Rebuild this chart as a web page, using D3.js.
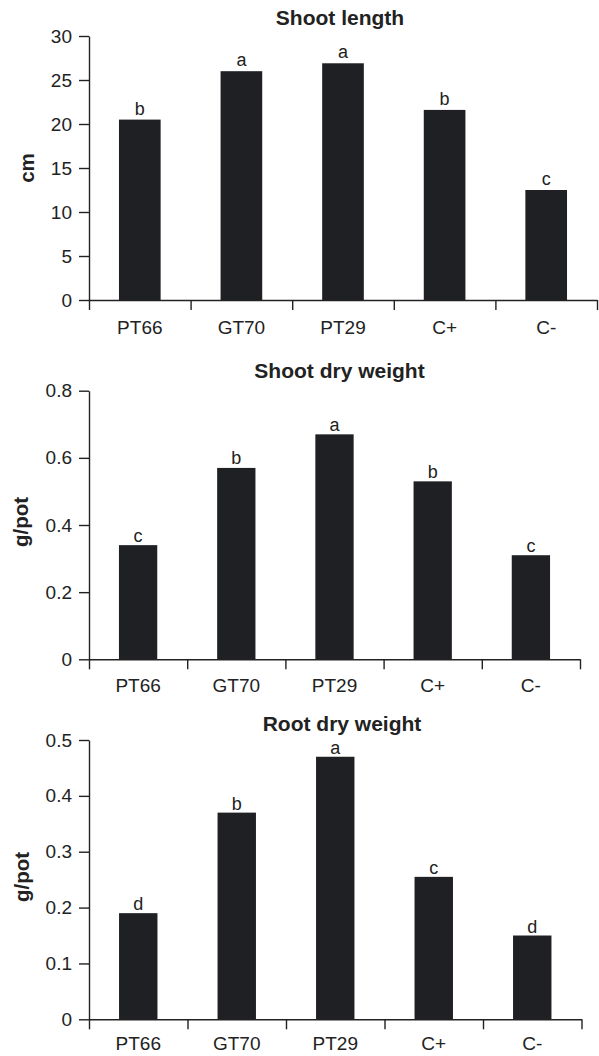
<!DOCTYPE html>
<html>
<head>
<meta charset="utf-8">
<script src="https://cdn.jsdelivr.net/npm/d3@7"></script>
<style>
  html, body { margin: 0; padding: 0; background: #fff; }
  svg { display: block; }
  text { font-family: "Liberation Sans", Arial, Helvetica, sans-serif; fill: #222; }
</style>
</head>
<body>
<svg id="chart" width="599" height="1056"></svg>
<script>
// ---- data ----
const categories = ["PT66", "GT70", "PT29", "C+", "C-"];

const shootLengthValues = [20.5, 26, 26.9, 21.6, 12.5];
const shootLengthLetters = ["b", "a", "a", "b", "c"];
const shootLengthTicks = [0, 5, 10, 15, 20, 25, 30];

const shootDryValues = [0.34, 0.57, 0.67, 0.53, 0.31];
const shootDryLetters = ["c", "b", "a", "b", "c"];
const shootDryTicks = [0, 0.2, 0.4, 0.6, 0.8];

const rootDryValues = [0.19, 0.37, 0.47, 0.255, 0.15];
const rootDryLetters = ["d", "b", "a", "c", "d"];
const rootDryTicks = [0, 0.1, 0.2, 0.3, 0.4, 0.5];

const panels = [
  { title: "Shoot length", yLabel: "cm", values: shootLengthValues, letters: shootLengthLetters,
    ticks: shootLengthTicks, fmt: d => String(d),
    x0: 89, x1: 597, yBase: 300, yTop: 36, barFrac: 0.41,
    titleX: 340, titleY: 25, yLabX: 33.5, yLabY: 168, xLabOff: 34, letterGap: 5 },
  { title: "Shoot dry weight", yLabel: "g/pot", values: shootDryValues, letters: shootDryLetters,
    ticks: shootDryTicks, fmt: d => d === 0 ? "0" : d3.format(".1f")(d),
    x0: 89, x1: 580, yBase: 659.3, yTop: 390.7, barFrac: 0.39,
    titleX: 339.5, titleY: 377.5, yLabX: 27.5, yLabY: 522, xLabOff: 32.5, letterGap: 3.5 },
  { title: "Root dry weight", yLabel: "g/pot", values: rootDryValues, letters: rootDryLetters,
    ticks: rootDryTicks, fmt: d => d === 0 ? "0" : d3.format(".1f")(d),
    x0: 89, x1: 581.5, yBase: 1019.3, yTop: 740, barFrac: 0.39,
    titleX: 342, titleY: 731, yLabX: 28.5, yLabY: 877, xLabOff: 31, letterGap: 3 }
];

const svg = d3.select("#chart");
const ink = "#222";
const barColor = "#1f2023";

panels.forEach(p => {
  const g = svg.append("g");
  const yMax = p.ticks[p.ticks.length - 1];

  const x = d3.scaleBand().domain(categories).range([p.x0, p.x1]).padding(0);
  const xEdge = d3.scaleLinear().domain([0, categories.length]).range([p.x0, p.x1]);
  const y = d3.scaleLinear().domain([0, yMax]).range([p.yBase, p.yTop]);

  // bars
  const bw = x.bandwidth() * p.barFrac;
  g.selectAll("rect.bar").data(p.values).join("rect")
    .attr("class", "bar")
    .attr("x", (d, i) => x(categories[i]) + (x.bandwidth() - bw) / 2)
    .attr("width", bw)
    .attr("y", d => y(d))
    .attr("height", d => y(0) - y(d))
    .attr("fill", barColor);

  // significance letters
  g.selectAll("text.letter").data(p.values).join("text")
    .attr("class", "letter")
    .attr("x", (d, i) => x(categories[i]) + x.bandwidth() / 2)
    .attr("y", d => y(d) - p.letterGap)
    .attr("text-anchor", "middle")
    .attr("font-size", "18px")
    .text((d, i) => p.letters[i]);

  // y axis
  const yAxis = g.append("g")
    .attr("transform", `translate(${p.x0},0)`)
    .call(d3.axisLeft(y).tickValues(p.ticks).tickFormat(p.fmt).tickSizeInner(10).tickSizeOuter(0).tickPadding(7));
  yAxis.selectAll("path, line").attr("stroke", ink).attr("stroke-width", 1.4);
  yAxis.selectAll("text").attr("font-size", "19px").attr("fill", ink).style("font-family", '"Liberation Sans", Arial, sans-serif');

  // x axis line with category boundary ticks
  const xAxis = g.append("g")
    .attr("transform", `translate(0,${p.yBase})`)
    .call(d3.axisBottom(xEdge).tickValues(d3.range(categories.length + 1)).tickFormat("").tickSizeInner(10).tickSizeOuter(0));
  xAxis.selectAll("path, line").attr("stroke", ink).attr("stroke-width", 1.4);

  // category labels
  const xLab = g.append("g")
    .attr("transform", `translate(0,${p.yBase})`)
    .call(d3.axisBottom(x).tickSize(0).tickPadding(0));
  xLab.select(".domain").remove();
  xLab.selectAll("text")
    .attr("y", p.xLabOff).attr("dy", 0)
    .attr("font-size", "19px").attr("fill", ink)
    .style("font-family", '"Liberation Sans", Arial, sans-serif');

  // title
  g.append("text")
    .attr("x", p.titleX).attr("y", p.titleY)
    .attr("text-anchor", "middle")
    .attr("font-size", "21px").attr("font-weight", "bold")
    .text(p.title);

  // y label
  g.append("text")
    .attr("transform", `translate(${p.yLabX},${p.yLabY}) rotate(-90)`)
    .attr("text-anchor", "middle")
    .attr("font-size", "20.5px").attr("font-weight", "bold")
    .text(p.yLabel);
});
</script>
</body>
</html>
